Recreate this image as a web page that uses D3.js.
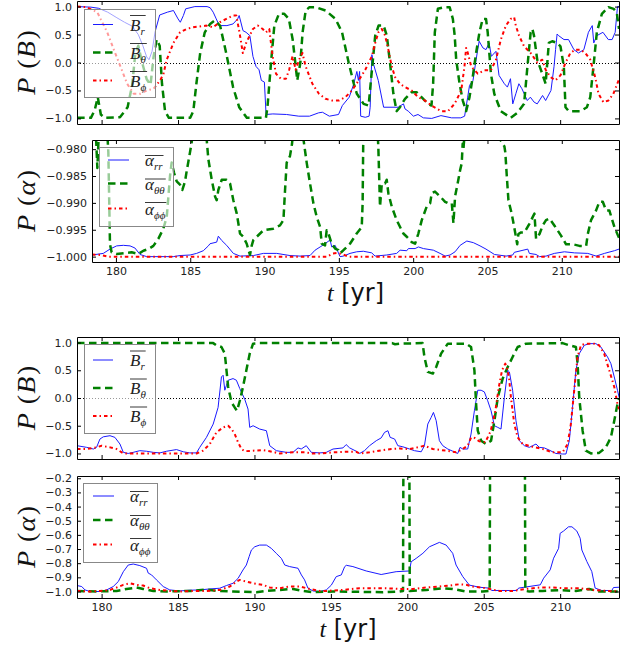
<!DOCTYPE html>
<html><head><meta charset="utf-8">
<script src="https://cdn.jsdelivr.net/npm/d3@7"></script>
<style>body{margin:0;background:#fff}svg{display:block}</style>
</head><body>
<svg id="chart" width="621" height="646"></svg>
<script>
// ---------------- DATA ----------------
const xDomain = [178.39, 213.85];
const xTicks = [180, 185, 190, 195, 200, 205, 210];
const bTicks = [1.0, 0.5, 0.0, -0.5, -1.0];
const aTopTicks = [-0.980, -0.985, -0.990, -0.995, -1.000];
const aBotTicks = [-0.2, -0.3, -0.4, -0.5, -0.6, -0.7, -0.8, -0.9, -1.0];
const bLegend = [["B", "r"], ["B", "θ"], ["B", "ϕ"]];
const aLegend = [["α", "rr"], ["α", "θθ"], ["α", "ϕϕ"]];

// Panel 1: P(B), top
const p1Br = [[178.4,1.0],[179.3,0.99],[179.8,0.97],[180.4,0.9],[181.0,0.8],[181.5,0.72],[182.0,0.65],[182.4,0.5],[182.7,0.3],[182.95,0.1],[183.1,0.05],[183.3,0.2],[183.5,0.55],[183.8,0.85],[184.3,0.9],[184.7,0.93],[185.0,0.78],[185.15,0.72],[185.35,0.84],[185.5,0.96],[186.1,1.0],[186.9,1.0],[187.1,0.98],[187.3,0.9],[187.5,0.78],[187.7,0.66],[188.2,0.66],[188.6,0.69],[188.9,0.78],[189.0,0.84],[189.25,0.57],[189.45,0.54],[189.7,0.48],[189.9,0.11],[190.1,-0.07],[190.3,-0.13],[190.45,-0.32],[190.65,-0.35],[190.76,-0.93],[191.2,-0.92],[192.1,-0.93],[192.9,-0.96],[193.6,-0.96],[194.2,-0.9],[194.45,-0.89],[194.9,-0.96],[195.5,-0.93],[195.75,-0.77],[196.2,-0.62],[196.5,-0.38],[196.7,-0.16],[196.8,-0.32],[196.88,-0.16],[196.95,-0.96],[197.25,-0.98],[197.5,-0.96],[197.57,-0.8],[197.68,0.14],[197.8,-0.04],[198.1,-0.32],[198.45,-0.8],[199.4,-0.8],[199.75,-0.74],[199.85,-0.83],[200.06,-0.87],[200.4,-0.96],[200.7,-0.93],[201.05,-0.99],[201.6,-1.0],[202.2,-0.95],[202.9,-0.99],[203.5,-0.99],[203.75,-0.96],[203.95,-0.62],[204.07,-0.41],[204.3,-0.32],[204.5,0.05],[204.7,0.38],[204.95,0.26],[205.15,0.23],[205.35,0.35],[205.5,0.11],[205.8,0.2],[206.0,-0.23],[206.35,-0.38],[206.55,-0.44],[206.75,-0.29],[206.9,-0.74],[207.1,-0.56],[207.3,-0.38],[207.5,-0.47],[207.85,-0.68],[208.05,-0.62],[208.3,-0.71],[208.5,-0.74],[208.85,-0.59],[209.05,-0.68],[209.4,-0.5],[209.6,-0.07],[209.7,0.23],[209.8,0.51],[209.9,0.48],[210.25,0.41],[210.55,0.41],[210.9,0.23],[211.2,0.17],[211.55,0.23],[211.85,0.54],[212.1,0.66],[212.2,0.35],[212.4,0.48],[212.8,0.54],[213.15,0.41],[213.4,0.41],[213.6,0.54],[213.75,1.0],[213.85,1.0]];
const p1Bt = [[178.4,-0.99],[179.3,-0.99],[179.55,-0.85],[179.75,-0.62],[179.95,-0.93],[180.2,-0.99],[181.2,-0.98],[181.7,-0.8],[182.0,-0.4],[182.2,0.15],[182.4,0.3],[182.65,0.0],[182.95,-0.3],[183.2,-0.4],[183.4,0.1],[183.6,0.41],[183.8,0.3],[183.95,-0.38],[184.15,-0.87],[184.4,-0.99],[185.8,-0.99],[186.0,-0.87],[186.2,-0.38],[186.45,0.17],[186.75,0.54],[187.1,0.69],[187.4,0.75],[187.75,0.66],[188.15,0.17],[188.6,-0.44],[189.0,-0.8],[189.5,-0.99],[190.75,-0.99],[190.85,-0.8],[191.1,0.05],[191.3,0.66],[191.6,0.87],[191.95,0.87],[192.25,0.78],[192.5,0.41],[192.7,-0.07],[192.8,-0.32],[193.0,-0.01],[193.15,0.54],[193.35,0.93],[193.6,0.99],[194.0,0.99],[194.65,0.93],[195.3,0.78],[195.73,0.54],[196.17,-0.01],[196.5,-0.38],[196.7,-0.56],[197.14,-0.74],[197.47,-0.77],[197.6,-0.38],[197.9,0.48],[198.12,0.66],[198.45,0.66],[198.66,0.48],[198.87,-0.01],[199.09,-0.56],[199.3,-0.87],[199.52,-0.8],[199.85,-0.65],[200.28,-0.53],[200.6,-0.53],[201.04,-0.65],[201.36,-0.74],[201.58,-0.77],[201.69,-0.38],[201.8,0.54],[202.0,0.96],[202.45,0.99],[202.77,0.99],[202.98,0.78],[203.1,0.48],[203.2,0.05],[203.42,-0.38],[203.63,-0.68],[203.85,-0.87],[204.07,-0.62],[204.28,-0.26],[204.5,0.17],[204.72,0.54],[204.93,0.78],[205.15,0.78],[205.26,0.54],[205.47,-0.2],[205.69,-0.56],[206.12,-0.87],[206.77,-0.99],[207.2,-0.9],[207.64,-0.74],[207.86,-0.07],[208.07,0.54],[208.18,0.6],[208.29,0.48],[208.5,0.05],[208.83,-0.2],[209.05,-0.38],[209.26,0.35],[209.48,0.38],[209.8,0.35],[210.02,0.29],[210.24,-0.07],[210.35,-0.8],[210.56,-0.87],[211.32,-0.87],[211.75,-0.8],[211.97,-0.62],[212.18,-0.07],[212.4,0.54],[212.73,0.87],[213.16,0.99],[213.5,0.96],[213.7,0.9],[213.85,0.6]];
const p1Bp = [[178.4,1.0],[179.0,0.99],[179.72,0.9],[179.93,0.78],[180.37,0.54],[180.8,0.23],[181.23,-0.07],[181.67,-0.38],[182.1,-0.56],[182.53,-0.56],[182.96,-0.5],[183.4,-0.47],[183.83,-0.32],[184.05,-0.2],[184.26,0.05],[184.7,0.35],[185.13,0.54],[185.56,0.6],[185.99,0.63],[186.86,0.66],[187.29,0.63],[187.73,0.72],[188.16,0.78],[188.59,0.84],[188.81,0.84],[189.02,0.54],[189.24,0.17],[189.46,0.35],[189.9,0.6],[190.22,0.66],[190.54,0.6],[190.76,0.54],[190.97,0.6],[191.08,0.35],[191.19,0.11],[191.41,-0.2],[191.73,-0.29],[192.06,-0.29],[192.27,-0.13],[192.49,0.11],[192.7,-0.13],[192.92,0.05],[193.14,0.17],[193.35,-0.07],[193.79,-0.38],[194.22,-0.56],[194.65,-0.65],[195.08,-0.68],[195.52,-0.68],[195.95,-0.62],[196.38,-0.5],[196.82,-0.32],[197.25,-0.13],[197.68,0.11],[197.9,0.35],[198.11,0.54],[198.33,0.6],[198.55,0.48],[198.76,0.23],[198.98,-0.07],[199.2,-0.26],[199.52,-0.38],[199.85,-0.44],[200.28,-0.5],[200.71,-0.62],[201.15,-0.68],[201.58,-0.77],[202.23,-0.87],[202.66,-0.87],[203.09,-0.74],[203.53,-0.5],[203.74,-0.07],[203.85,0.26],[203.96,0.17],[204.18,-0.07],[204.61,-0.2],[205.04,-0.14],[205.47,-0.14],[205.8,0.05],[206.12,0.41],[206.45,0.66],[206.77,0.78],[206.99,0.81],[207.1,0.66],[207.31,0.48],[207.64,0.29],[208.07,0.17],[208.5,0.0],[208.83,0.05],[209.05,-0.13],[209.37,-0.26],[209.69,-0.32],[210.02,-0.23],[210.34,-0.01],[210.67,0.17],[210.99,0.23],[211.32,0.23],[211.64,0.17],[211.97,0.05],[212.29,-0.26],[212.51,-0.56],[212.83,-0.71],[213.16,-0.68],[213.48,-0.56],[213.85,-0.3]];

// Panel 2: P(alpha), top
const p2Arr = [[178.39,-0.9997],[179.15,-0.9994],[179.6,-0.9986],[180.05,-0.998],[180.5,-0.9979],[180.95,-0.998],[181.28,-0.9984],[181.62,-0.9996],[182.07,-1.0],[183.86,-1.0],[184.31,-0.9998],[184.99,-0.9997],[185.43,-0.9994],[185.88,-0.9989],[186.22,-0.998],[186.33,-0.9976],[186.78,-0.9973],[186.89,-0.9962],[187.12,-0.997],[187.45,-0.9979],[187.9,-0.9994],[188.35,-0.9999],[189.25,-0.9998],[189.92,-0.9994],[190.82,-0.9994],[191.71,-0.9998],[192.39,-0.9999],[193.06,-0.9998],[193.4,-0.9988],[193.74,-0.9982],[194.07,-0.9976],[194.41,-0.9969],[194.52,-0.9982],[194.75,-0.9979],[195.08,-1.0],[195.31,-0.9999],[195.75,-0.9994],[196.2,-0.9991],[196.65,-0.999],[197.21,-0.9993],[197.44,-0.9999],[198.22,-0.9997],[198.89,-0.9994],[199.12,-0.9988],[199.57,-0.9989],[199.68,-0.9985],[200.13,-0.9985],[200.35,-0.9982],[200.69,-0.9985],[201.36,-0.9988],[201.81,-0.9994],[202.15,-0.9999],[202.48,-0.9997],[202.82,-0.9991],[203.16,-0.9979],[203.61,-0.9971],[204.05,-0.9974],[204.5,-0.998],[204.9,-0.9986],[205.47,-0.9996],[206.25,-0.9999],[206.7,-0.9997],[206.81,-0.9992],[207.71,-0.9986],[207.82,-0.9994],[208.27,-0.9996],[208.5,-1.0],[208.94,-0.9999],[209.5,-0.9994],[210.18,-0.9991],[210.85,-0.9993],[211.75,-0.9994],[212.31,-0.9999],[212.87,-0.9994],[213.54,-0.9989],[213.85,-0.9986]];
const p2Att = [[178.39,-0.976],[178.65,-0.977],[178.75,-0.9835],[178.85,-0.977],[179.4,-0.976],[179.49,-0.9806],[179.6,-0.9977],[179.71,-0.9992],[180.05,-0.9995],[181.06,-0.9992],[181.5,-0.9995],[181.85,-0.9989],[182.18,-0.9986],[182.52,-0.998],[182.85,-0.9967],[183.19,-0.9948],[183.42,-0.9926],[183.53,-0.9888],[183.64,-0.985],[183.75,-0.9825],[183.91,-0.9844],[184.09,-0.986],[184.31,-0.9866],[184.47,-0.9876],[184.65,-0.986],[184.76,-0.9841],[184.94,-0.9813],[185.1,-0.9787],[185.2,-0.976],[186.0,-0.976],[186.1,-0.978],[186.22,-0.9819],[186.44,-0.9856],[186.67,-0.9888],[186.78,-0.9895],[186.89,-0.9876],[187.12,-0.9857],[187.45,-0.9857],[187.68,-0.9864],[187.9,-0.9895],[188.13,-0.992],[188.35,-0.9957],[188.57,-0.9963],[188.8,-0.9976],[189.02,-0.9997],[189.13,-0.998],[189.25,-0.9969],[189.7,-0.9957],[189.92,-0.9951],[190.59,-0.9948],[191.04,-0.9942],[191.27,-0.9932],[191.38,-0.9876],[191.49,-0.9825],[191.71,-0.9813],[191.85,-0.979],[191.94,-0.976],[192.5,-0.976],[192.61,-0.978],[192.84,-0.9826],[193.06,-0.9864],[193.29,-0.9901],[193.51,-0.9926],[193.74,-0.9945],[193.85,-0.9976],[194.07,-0.9979],[194.18,-0.9951],[194.3,-0.9957],[194.52,-0.9976],[194.75,-0.9985],[194.97,-0.9988],[195.08,-0.9994],[195.31,-0.9988],[195.75,-0.9976],[196.2,-0.9957],[196.54,-0.9945],[196.6,-0.99],[196.65,-0.976],[197.6,-0.976],[197.66,-0.98],[197.77,-0.9907],[197.89,-0.9864],[198.11,-0.9864],[198.22,-0.9857],[198.33,-0.9882],[198.56,-0.9907],[198.89,-0.9932],[199.12,-0.9945],[199.34,-0.9957],[199.57,-0.9963],[199.9,-0.9973],[200.13,-0.9976],[200.35,-0.9957],[200.58,-0.9932],[200.91,-0.9907],[201.14,-0.9901],[201.25,-0.9882],[201.47,-0.9879],[201.81,-0.9888],[202.15,-0.9898],[202.37,-0.9901],[202.6,-0.9901],[202.71,-0.9938],[202.82,-0.9888],[203.04,-0.9857],[203.16,-0.9839],[203.27,-0.9826],[203.33,-0.979],[203.38,-0.9801],[203.49,-0.976],[205.7,-0.976],[205.8,-0.978],[206.14,-0.9795],[206.2,-0.9806],[206.3,-0.985],[206.41,-0.9895],[206.63,-0.992],[206.8,-0.9945],[207.0,-0.9977],[207.08,-0.9958],[207.26,-0.9955],[207.49,-0.9955],[207.82,-0.9939],[208.05,-0.9926],[208.16,-0.992],[208.27,-0.9967],[208.5,-0.9958],[208.72,-0.9942],[208.94,-0.9932],[209.17,-0.9929],[209.5,-0.9942],[209.95,-0.9961],[210.29,-0.9977],[210.74,-0.9977],[211.19,-0.998],[211.64,-0.998],[211.75,-0.9958],[211.97,-0.9932],[212.31,-0.9914],[212.53,-0.9898],[212.76,-0.9898],[212.98,-0.9914],[213.2,-0.9914],[213.54,-0.9945],[213.77,-0.996],[213.85,-0.9965]];
const p2App = [[178.39,-0.9996],[179.0,-0.9997],[179.5,-1.0],[194.2,-1.0],[194.6,-0.9994],[194.9,-0.9993],[195.3,-0.9996],[195.6,-1.0],[213.85,-1.0]];

// Panel 3: P(B), bottom
const p3Br = [[178.39,-0.86],[179.02,-0.89],[179.46,-0.92],[179.67,-0.89],[179.89,-0.74],[180.11,-0.7],[180.55,-0.68],[180.87,-0.71],[181.2,-0.83],[181.42,-0.98],[181.74,-1.0],[182.07,-0.98],[182.5,-0.95],[182.94,-0.96],[183.38,-0.98],[183.81,-0.99],[184.25,-0.96],[184.9,-0.93],[185.34,-0.97],[185.77,-0.99],[186.21,-0.99],[186.42,-0.89],[186.86,-0.71],[187.3,-0.47],[187.62,-0.17],[187.84,0.38],[187.95,0.41],[188.06,0.14],[188.17,0.23],[188.28,0.32],[188.6,0.35],[188.82,0.32],[189.04,0.17],[189.36,-0.02],[189.58,-0.2],[189.69,-0.53],[189.91,-0.5],[190.34,-0.56],[190.78,-0.59],[191.0,-0.86],[191.43,-0.95],[192.09,-0.98],[192.52,-0.98],[192.85,-0.9],[193.06,-0.92],[193.39,-0.86],[193.72,-0.98],[194.27,-0.99],[194.7,-0.98],[195.14,-0.92],[195.79,-0.9],[196.0,-0.84],[196.23,-0.9],[196.66,-0.96],[196.88,-1.0],[197.2,-0.95],[197.53,-0.86],[197.97,-0.77],[198.29,-0.72],[198.51,-0.62],[198.73,-0.59],[198.88,-0.71],[199.17,-0.74],[199.38,-0.86],[199.71,-0.88],[200.15,-0.92],[200.47,-0.95],[200.91,-0.97],[201.12,-0.86],[201.34,-0.47],[201.56,-0.35],[201.71,-0.26],[201.89,-0.41],[202.1,-0.77],[202.32,-0.86],[202.65,-0.92],[202.98,-0.96],[203.3,-1.0],[203.45,-0.89],[203.63,-0.92],[203.95,-0.92],[204.17,-0.65],[204.39,-0.23],[204.61,0.14],[204.83,0.14],[205.04,0.11],[205.26,-0.05],[205.48,-0.23],[205.7,-0.5],[205.92,-0.53],[206.13,-0.56],[206.35,0.01],[206.57,0.5],[206.68,0.47],[206.89,0.14],[207.11,-0.41],[207.33,-0.77],[207.66,-0.86],[207.98,-0.89],[208.2,-0.86],[208.42,-0.83],[208.64,-0.89],[208.96,-0.9],[209.29,-0.94],[209.72,-1.0],[210.16,-1.01],[210.38,-1.01],[210.6,-0.77],[210.81,-0.17],[211.03,0.5],[211.25,0.8],[211.58,0.95],[211.9,0.98],[212.34,0.98],[212.66,0.92],[213.1,0.74],[213.32,0.62],[213.54,0.38],[213.75,0.14],[213.86,0.01]];
const p3Bt = [[178.39,0.99],[187.3,0.99],[187.51,0.95],[187.84,0.92],[188.06,0.8],[188.17,0.5],[188.28,0.2],[188.5,-0.08],[188.71,-0.17],[188.86,-0.23],[189.04,-0.05],[189.25,0.2],[189.47,0.5],[189.69,0.8],[189.91,0.98],[190.34,0.99],[199.0,0.99],[199.2,0.97],[199.5,0.98],[201.0,0.99],[201.12,0.74],[201.34,0.47],[201.67,0.44],[201.89,0.56],[202.21,0.8],[202.65,0.98],[203.85,0.98],[204.17,0.92],[204.39,0.5],[204.5,-0.1],[204.61,-0.59],[204.83,-0.77],[205.15,-0.83],[205.48,-0.77],[205.7,-0.41],[205.92,0.01],[206.24,0.35],[206.57,0.56],[206.89,0.74],[207.22,0.92],[207.77,0.98],[210.16,0.99],[210.6,0.95],[211.03,0.92],[211.14,0.62],[211.25,0.01],[211.47,-0.59],[211.68,-0.95],[212.01,-1.0],[212.55,-0.99],[212.99,-0.89],[213.32,-0.71],[213.54,-0.41],[213.75,-0.11],[213.86,0.0]];
const p3Bp = [[178.39,-0.92],[179.02,-0.92],[179.67,-0.89],[180.0,-0.86],[180.55,-0.89],[180.98,-0.92],[181.42,-1.0],[186.21,-1.0],[186.64,-0.95],[187.08,-0.83],[187.51,-0.62],[187.95,-0.53],[188.28,-0.5],[188.5,-0.56],[188.71,-0.65],[188.93,-0.8],[189.15,-0.92],[189.36,-0.96],[189.91,-0.95],[190.56,-0.94],[191.0,-0.96],[191.65,-1.0],[192.52,-0.98],[192.96,-0.98],[193.39,-0.98],[193.72,-1.0],[194.27,-1.0],[195.14,-0.98],[196.0,-0.97],[196.66,-0.97],[196.88,-1.0],[197.53,-0.98],[198.4,-0.94],[198.95,-0.92],[199.49,-0.91],[200.15,-0.92],[200.69,-0.89],[201.12,-0.86],[201.67,-0.92],[202.54,-0.95],[203.19,-0.98],[203.63,-0.92],[203.95,-0.86],[204.17,-0.71],[204.4,-0.72],[204.7,-0.78],[205.1,-0.8],[205.45,-0.6],[205.75,-0.25],[205.99,0.2],[206.2,0.5],[206.41,0.62],[206.5,0.56],[206.65,0.38],[206.78,0.01],[207.0,-0.47],[207.22,-0.71],[207.55,-0.83],[208.2,-0.88],[208.85,-0.92],[209.5,-0.98],[210.16,-0.98],[210.49,-0.83],[210.7,-0.47],[210.92,0.14],[211.14,0.74],[211.36,0.95],[211.68,0.98],[212.23,0.98],[212.55,0.95],[212.88,0.8],[213.21,0.5],[213.54,0.2],[213.75,-0.11],[213.86,-0.2]];

// Panel 4: P(alpha), bottom
const p4Arr = [[178.39,-0.958],[178.7,-0.965],[178.91,-0.989],[179.24,-1.0],[179.89,-1.0],[180.33,-0.989],[180.76,-0.965],[181.09,-0.93],[181.42,-0.86],[181.74,-0.813],[182.07,-0.806],[182.5,-0.817],[182.94,-0.836],[183.05,-0.87],[183.27,-0.883],[183.59,-0.918],[184.03,-0.965],[184.46,-0.989],[185.12,-0.996],[185.77,-0.991],[186.42,-0.989],[187.08,-0.982],[187.73,-0.977],[188.17,-0.958],[188.6,-0.942],[188.93,-0.907],[189.25,-0.848],[189.47,-0.813],[189.65,-0.754],[189.8,-0.707],[190.02,-0.684],[190.34,-0.672],[190.78,-0.672],[191.1,-0.695],[191.43,-0.731],[191.76,-0.766],[191.98,-0.813],[192.3,-0.824],[192.85,-0.836],[193.07,-0.883],[193.28,-0.918],[193.5,-0.977],[193.83,-0.996],[194.27,-1.0],[194.7,-0.989],[195.03,-0.955],[195.35,-0.895],[195.68,-0.883],[195.9,-0.825],[196.01,-0.815],[196.44,-0.824],[197.31,-0.855],[198.29,-0.88],[199.27,-0.86],[200.14,-0.855],[200.25,-0.79],[200.58,-0.766],[201.02,-0.73],[201.45,-0.684],[202.1,-0.653],[202.54,-0.672],[202.97,-0.73],[203.19,-0.813],[203.63,-0.895],[204.06,-0.955],[204.72,-0.97],[205.32,-0.976],[205.54,-0.993],[207.17,-0.993],[207.28,-0.976],[208.7,-0.953],[208.92,-0.906],[209.35,-0.847],[209.57,-0.765],[209.9,-0.695],[210.0,-0.589],[210.22,-0.573],[210.55,-0.543],[210.77,-0.543],[211.09,-0.573],[211.31,-0.624],[211.42,-0.707],[211.75,-0.789],[212.07,-0.859],[212.29,-0.976],[212.72,-0.993],[213.38,-0.993],[213.49,-0.972],[213.86,-0.97]];
const p4Att = [[178.39,-0.996],[179.67,-1.0],[180.98,-0.996],[181.63,-0.982],[182.29,-0.972],[182.72,-0.982],[183.38,-0.996],[184.25,-1.0],[185.99,-0.996],[186.86,-0.986],[187.51,-0.996],[188.6,-1.0],[190.13,-1.005],[190.78,-0.996],[191.65,-0.989],[192.52,-0.982],[193.18,-0.996],[193.83,-1.005],[195.14,-1.0],[198.4,-1.005],[199.49,-1.0],[199.72,-0.996],[199.76,0.5],[200.12,0.5],[200.16,-0.996],[201.23,-0.989],[202.32,-0.977],[202.97,-0.982],[203.85,-1.0],[204.93,-1.0],[205.39,-0.996],[205.43,0.5],[207.68,0.5],[207.72,-0.996],[207.98,-1.0],[208.85,-0.996],[209.94,-0.991],[211.03,-0.996],[211.9,-0.982],[212.55,-1.0],[213.86,-1.0]];
const p4App = [[178.39,-0.996],[179.24,-1.0],[179.89,-0.996],[180.55,-0.989],[180.98,-0.972],[181.42,-0.953],[181.85,-0.942],[182.29,-0.953],[182.72,-0.958],[183.16,-0.977],[183.81,-0.989],[184.46,-0.996],[185.12,-1.0],[185.99,-0.996],[186.86,-0.996],[187.73,-0.989],[188.39,-0.965],[188.82,-0.93],[189.04,-0.918],[189.47,-0.93],[189.91,-0.942],[190.56,-0.953],[191.0,-0.972],[191.65,-0.977],[192.3,-0.965],[192.96,-0.965],[193.61,-0.982],[194.26,-0.996],[194.7,-0.996],[195.79,-0.989],[196.88,-0.977],[197.75,-0.977],[198.62,-0.977],[199.49,-0.982],[200.36,-0.982],[201.23,-0.972],[202.1,-0.965],[202.76,-0.958],[203.41,-0.949],[203.85,-0.953],[204.28,-0.965],[205.15,-0.977],[206.02,-0.996],[206.89,-0.996],[207.77,-0.982],[208.64,-0.972],[209.51,-0.972],[210.38,-0.977],[211.25,-0.977],[212.12,-0.989],[212.99,-0.996],[213.86,-1.0]];

// ---------------- STYLE / LAYOUT ----------------
const styles = [
  {color: "#1a1aff", width: 1, dash: null},
  {color: "#008000", width: 2.5, dash: "7.5,4.5"},
  {color: "#ff0000", width: 2, dash: "3.5,3,1.5,3"}
];
const panels = [
  {x0: 77, x1: 619, y0: 1, y1: 124, dom: [-1.1, 1.1], ticks: bTicks, fmt: ".1f", zero: true,
   series: [p1Br, p1Bt, p1Bp], leg: bLegend, legBox: [84, 155, 9, 97], rows: [24.5, 52.5, 80.5], hx: [93, 113], lx: 130,
   ysym: "B", xlab: null},
  {x0: 92, x1: 619, y0: 140, y1: 262, dom: [-1.001, -0.9783], ticks: aTopTicks, fmt: ".3f", zero: false,
   series: [p2Arr, p2Att, p2App], leg: aLegend, legBox: [99, 173, 147, 226], rows: [160, 183.5, 208.5], hx: [108, 129], lx: 145,
   ysym: "α", xlab: 301},
  {x0: 77, x1: 619, y0: 337, y1: 459, dom: [-1.1, 1.1], ticks: bTicks, fmt: ".1f", zero: true,
   series: [p3Br, p3Bt, p3Bp], leg: bLegend, legBox: [84, 155, 344, 433], rows: [360, 388, 416], hx: [93, 113], lx: 130,
   ysym: "B", xlab: null},
  {x0: 77, x1: 619, y0: 476, y1: 598, dom: [-1.046, -0.184], ticks: aBotTicks, fmt: ".1f", zero: false,
   series: [p4Arr, p4Att, p4App], leg: aLegend, legBox: [83, 157, 483, 562], rows: [496, 520, 544.5], hx: [93, 114], lx: 130,
   ysym: "α", xlab: 637}
];
const tickFont = "'DejaVu Sans', sans-serif";
const mathFont = "'Liberation Serif', 'DejaVu Serif', serif";

const svg = d3.select("#chart");
svg.append("rect").attr("width", 621).attr("height", 646).attr("fill", "#fff");

panels.forEach((p, pi) => {
  const x = d3.scaleLinear().domain(xDomain).range([p.x0, p.x1]);
  const y = d3.scaleLinear().domain(p.dom).range([p.y1, p.y0]);
  const g = svg.append("g");
  const clipId = "clip" + pi;
  svg.append("clipPath").attr("id", clipId).append("rect")
    .attr("x", p.x0).attr("y", p.y0).attr("width", p.x1 - p.x0).attr("height", p.y1 - p.y0);

  const plot = g.append("g").attr("clip-path", `url(#${clipId})`);
  if (p.zero) {
    plot.append("line").attr("x1", p.x0).attr("x2", p.x1)
      .attr("y1", Math.round(y(0)) + 0.5).attr("y2", Math.round(y(0)) + 0.5)
      .attr("stroke", "#000").attr("stroke-width", 1).attr("stroke-dasharray", "1,2");
  }
  const line = d3.line().x(d => x(d[0])).y(d => y(d[1]));
  p.series.forEach((s, si) => {
    const st = styles[si];
    plot.append("path").datum(s).attr("d", line).attr("fill", "none")
      .attr("stroke", st.color).attr("stroke-width", st.width)
      .attr("stroke-dasharray", st.dash).attr("stroke-linejoin", "round");
  });

  // axes (ticks inward on all four sides)
  const fmt = d3.format(p.fmt);
  const ax = g.append("g").attr("transform", `translate(0,${p.y1})`)
    .call(d3.axisBottom(x).tickValues(xTicks).tickSize(-4).tickSizeOuter(0).tickPadding(5));
  const at = g.append("g").attr("transform", `translate(0,${p.y0})`)
    .call(d3.axisTop(x).tickValues(xTicks).tickSize(-4).tickSizeOuter(0).tickFormat(""));
  const ay = g.append("g").attr("transform", `translate(${p.x0},0)`)
    .call(d3.axisLeft(y).tickValues(p.ticks).tickSize(-4).tickSizeOuter(0).tickPadding(5).tickFormat(fmt));
  const ar = g.append("g").attr("transform", `translate(${p.x1},0)`)
    .call(d3.axisRight(y).tickValues(p.ticks).tickSize(-4).tickSizeOuter(0).tickFormat(""));
  [ax, at, ay, ar].forEach(a => {
    a.selectAll("path.domain").attr("stroke", "#000").attr("stroke-width", 1);
    a.selectAll(".tick line").attr("stroke", "#000");
    a.selectAll("text").attr("font-family", tickFont).attr("font-size", 11).attr("fill", "#222");
  });
  if (!p.xlab) ax.selectAll("text").remove();
  else ax.selectAll("text").attr("dy", null).attr("y", 13);

  // y label: P (B) / P (α)
  const cy = (p.y0 + p.y1) / 2;
  const yl = g.append("text").attr("transform", `translate(35,${cy}) rotate(-90) scale(1.12,1)`)
    .attr("text-anchor", "middle").attr("font-family", mathFont).attr("font-size", 25).attr("fill", "#111");
  yl.append("tspan").attr("font-style", "italic").text("P");
  yl.append("tspan").attr("dx", 8).text("(");
  yl.append("tspan").attr("font-style", "italic").attr("dx", 1).text(p.ysym);
  yl.append("tspan").attr("dx", 1.5).text(")");

  // x label
  if (p.xlab) {
    const xl = g.append("text").attr("x", (p.x0 + p.x1) / 2).attr("y", p.xlab)
      .attr("text-anchor", "middle").attr("font-size", 24).attr("fill", "#111");
    xl.append("tspan").attr("font-family", mathFont).attr("font-style", "italic").text("t");
    xl.append("tspan").attr("font-family", tickFont).text(" [yr]");
  }

  // legend
  const lb = p.legBox;
  const lg = g.append("g");
  lg.append("rect").attr("x", lb[0] + 0.5).attr("y", lb[2] + 0.5)
    .attr("width", lb[1] - lb[0]).attr("height", lb[3] - lb[2])
    .attr("fill", "#fff").attr("fill-opacity", 0.6).attr("stroke", "#888").attr("stroke-width", 1);
  p.leg.forEach((lab, i) => {
    const st = styles[i];
    const ry = p.rows[i];
    lg.append("line").attr("x1", p.hx[0]).attr("x2", p.hx[1]).attr("y1", ry).attr("y2", ry)
      .attr("stroke", st.color).attr("stroke-width", st.width).attr("stroke-dasharray", st.dash);
    const base = ry + 6;
    const t = lg.append("text").attr("x", p.lx).attr("y", base)
      .attr("font-family", mathFont).attr("font-style", "italic").attr("font-size", 17).attr("fill", "#222");
    t.append("tspan").text(lab[0]);
    t.append("tspan").attr("font-size", 11).attr("dy", 4).text(lab[1]);
    const w = t.node().getComputedTextLength();
    const off = lab[0] === "B" ? -15 : (lab[1] === "ϕϕ" ? -12 : -10.5);
    lg.append("line").attr("x1", p.lx).attr("x2", p.lx + w + 1)
      .attr("y1", base + off).attr("y2", base + off).attr("stroke", "#222").attr("stroke-width", 0.9);
  });
});
</script>
</body></html>
